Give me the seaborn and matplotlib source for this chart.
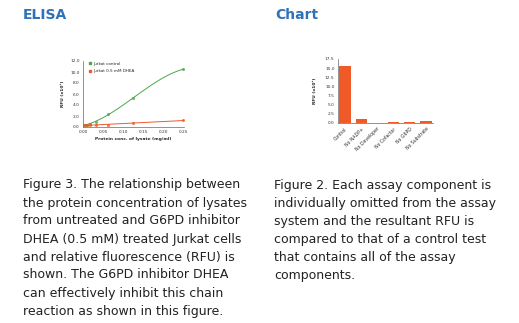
import matplotlib
matplotlib.use("Agg")
import matplotlib.pyplot as plt
import seaborn as sns
import numpy as np
import pandas as pd
from matplotlib.lines import Line2D

# ---- data ----
conc = [0.0, 0.0039, 0.0078, 0.0156, 0.03125, 0.0625, 0.125, 0.25]
rfu_control = [0.3, 0.35, 0.45, 0.6, 1.0, 2.3, 5.3, 10.5]
rfu_dhea = [0.3, 0.3, 0.3, 0.35, 0.35, 0.45, 0.7, 1.2]
series_names = ["Jurkat control", "Jurkat 0.5 mM DHEA"]

components = ["Control", "No NADP+", "No Developer", "No Cofactor", "No G6PD", "No Substrate"]
comp_rfu = [15.6, 1.0, 0.0, 0.4, 0.4, 0.6]

left_ticks_y = [0, 2, 4, 6, 8, 10, 12]
left_ticks_x = [0.0, 0.05, 0.10, 0.15, 0.20, 0.25]
right_ticks_y = [0, 2.5, 5, 7.5, 10, 12.5, 15, 17.5]

caption_left = ["Figure 3. The relationship between",
                "the protein concentration of lysates",
                "from untreated and G6PD inhibitor",
                "DHEA (0.5 mM) treated Jurkat cells",
                "and relative fluorescence (RFU) is",
                "shown. The G6PD inhibitor DHEA",
                "can effectively inhibit this chain",
                "reaction as shown in this figure."]
caption_right = ["Figure 2. Each assay component is",
                 "individually omitted from the assay",
                 "system and the resultant RFU is",
                 "compared to that of a control test",
                 "that contains all of the assay",
                 "components."]

sns.set_style("white")
plt.rcParams['font.family'] = ['DejaVu Sans']

W, H = 519, 323
fig = plt.figure(figsize=(W / 100, H / 100), dpi=100)
fig.patch.set_facecolor("white")

def ax_px(l, t, r, b):
    return fig.add_axes([l / W, 1 - b / H, (r - l) / W, (b - t) / H])

GREEN = "#4aa84a"
ORANGE = "#ef5a28"
TITLE_BLUE = "#2f72b8"
tick_fs = 3.1

def style_axes(ax):
    for s in ["top", "right"]:
        ax.spines[s].set_visible(False)
    for s in ["left", "bottom"]:
        ax.spines[s].set_color("#666666")
        ax.spines[s].set_linewidth(0.5)
    ax.tick_params(axis="both", labelsize=tick_fs, length=1.5, width=0.4,
                   color="#666666", pad=1, labelcolor="#333333", direction="out")

# ---- left line chart ----
ax1 = ax_px(83, 61, 184, 127)
df = pd.DataFrame({"conc": conc * 2,
                   "rfu": rfu_control + rfu_dhea,
                   "series": [series_names[0]] * len(conc) + [series_names[1]] * len(conc)})
sns.regplot(data=df[df.series == series_names[0]], x="conc", y="rfu", order=3, ci=None,
            ax=ax1, color=GREEN, truncate=True,
            scatter_kws=dict(s=5, marker="s", linewidths=0, zorder=3),
            line_kws=dict(lw=0.7))
sns.regplot(data=df[df.series == series_names[1]], x="conc", y="rfu", order=1, ci=None,
            ax=ax1, color=ORANGE, truncate=True,
            scatter_kws=dict(s=5, marker="s", linewidths=0, zorder=3),
            line_kws=dict(lw=0.7))
ax1.set_xlim(-0.001, 0.252)
ax1.set_ylim(0, 12)
ax1.set_xticks(left_ticks_x)
ax1.set_xticklabels([f"{v:.2f}" for v in left_ticks_x])
ax1.set_yticks(left_ticks_y)
ax1.set_yticklabels([f"{v:.1f}" for v in left_ticks_y])
ax1.set_xlabel("Protein conc. of lysate (mg/ml)", fontsize=3.2, fontweight="bold", labelpad=1.5)
ax1.set_ylabel("RFU (x10³)", fontsize=3.2, fontweight="bold", labelpad=4)
style_axes(ax1)
handles = [Line2D([], [], color=GREEN, marker="s", ms=1.6, lw=0),
           Line2D([], [], color=ORANGE, marker="s", ms=1.6, lw=0)]
ax1.legend(handles, series_names, loc="upper left", fontsize=3, frameon=False,
           handlelength=0.6, handletextpad=0.5, borderaxespad=0.3, labelspacing=0.8,
           bbox_to_anchor=(0.03, 1.03))

# ---- right bar chart ----
ax2 = ax_px(338, 59, 433, 123)
bdf = pd.DataFrame({"component": components, "rfu": comp_rfu})
sns.barplot(data=bdf, x="component", y="rfu", ax=ax2, color=ORANGE, width=0.7,
            saturation=1, edgecolor="none")
ax2.set_xlim(-0.43, 5.43)
ax2.set_ylim(0, 17.5)
ax2.set_yticks(right_ticks_y)
ax2.set_yticklabels([f"{v:.1f}" for v in right_ticks_y])
ax2.set_xticks(range(len(components)))
ax2.set_xticklabels(components, rotation=45, ha="right", rotation_mode="anchor")
ax2.set_xlabel("")
ax2.set_ylabel("RFU (x10³)", fontsize=3.2, fontweight="bold", labelpad=6)
style_axes(ax2)
ax2.tick_params(axis="x", labelsize=3.3)

# ---- titles ----
fig.text(23 / W, 1 - 15 / H, "ELISA", fontsize=10, fontweight="bold", color=TITLE_BLUE,
         ha="left", va="center")
fig.text(275 / W, 1 - 15 / H, "Chart", fontsize=10, fontweight="bold", color=TITLE_BLUE,
         ha="left", va="center")

# ---- captions ----
cap_fs = 9.0
for i, line in enumerate(caption_left):
    fig.text(23 / W, 1 - (185 + 18 * i) / H, line, fontsize=cap_fs, color="#222222",
             ha="left", va="center")
for i, line in enumerate(caption_right):
    fig.text(274 / W, 1 - (186 + 18 * i) / H, line, fontsize=cap_fs, color="#222222",
             ha="left", va="center")

fig.savefig("out.png", dpi=100, facecolor="white")
